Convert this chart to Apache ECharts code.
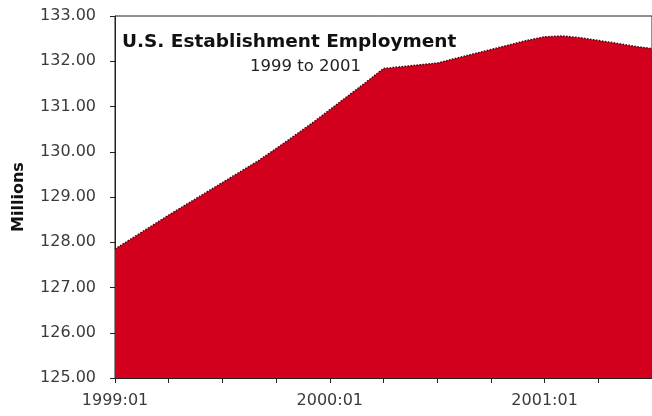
<!DOCTYPE html>
<html>
<head>
<meta charset="utf-8">
<script src="https://cdn.jsdelivr.net/npm/echarts@6/dist/echarts.min.js"></script>
<style>
  html, body { margin: 0; padding: 0; background: #fff; }
  #chart { width: 652px; height: 416px; }
</style>
</head>
<body>
<div id="chart"></div>
<script>
// 月份（横轴类目）
let months = [
    '1999:01', '1999:02', '1999:03', '1999:04', '1999:05', '1999:06',
    '1999:07', '1999:08', '1999:09', '1999:10', '1999:11', '1999:12',
    '2000:01', '2000:02', '2000:03', '2000:04', '2000:05', '2000:06',
    '2000:07', '2000:08', '2000:09', '2000:10', '2000:11', '2000:12',
    '2001:01', '2001:02', '2001:03', '2001:04', '2001:05', '2001:06',
    '2001:07'
];
// 就业人数（百万）
let employment = [
    127.85, 128.10, 128.35, 128.60, 128.84, 129.08,
    129.32, 129.56, 129.80, 130.07, 130.35, 130.63,
    130.93, 131.23, 131.53, 131.84, 131.88, 131.92,
    131.96, 132.06, 132.16, 132.26, 132.36, 132.46,
    132.54, 132.56, 132.52, 132.46, 132.40, 132.33,
    132.28
];
let yTicks = { min: 125, max: 133, step: 1 };

let chart = echarts.init(document.getElementById('chart'), null, { renderer: 'canvas' });
let option = {
    animation: false,
    backgroundColor: '#fff',
    title: [
        {
            text: 'U.S. Establishment Employment',
            left: 122,
            top: 33,
            padding: 0,
            textStyle: { fontFamily: 'DejaVu Sans', fontSize: 18.5, fontWeight: 'bold', color: '#111' }
        },
        {
            text: '1999 to 2001',
            left: 250,
            top: 58,
            padding: 0,
            textStyle: { fontFamily: 'DejaVu Sans', fontSize: 16.5, fontWeight: 'normal', color: '#222' }
        }
    ],
    grid: {
        left: 115,
        right: -3,
        top: 16,
        bottom: 38,
        show: true,
        borderColor: '#222',
        borderWidth: 1
    },
    xAxis: {
        type: 'category',
        data: months,
        boundaryGap: false,
        axisLine: { lineStyle: { color: '#222', width: 1 } },
        axisTick: {
            length: 5,
            interval: (idx) => idx % 3 === 0,
            lineStyle: { color: '#222' }
        },
        axisLabel: {
            interval: (idx) => idx % 12 === 0,
            margin: 15,
            fontFamily: 'DejaVu Sans',
            fontSize: 16,
            color: '#3a3a3a'
        },
        splitLine: { show: false }
    },
    yAxis: {
        type: 'value',
        min: yTicks.min,
        max: yTicks.max,
        interval: yTicks.step,
        name: 'Millions',
        nameLocation: 'middle',
        nameGap: 88,
        nameRotate: 90,
        nameTextStyle: { fontFamily: 'DejaVu Sans', fontSize: 16, fontWeight: 'bold', color: '#111' },
        axisLine: { show: true, lineStyle: { color: '#222', width: 1 } },
        axisTick: { show: true, length: 5, lineStyle: { color: '#222' } },
        axisLabel: {
            margin: 19,
            fontFamily: 'DejaVu Sans',
            fontSize: 16,
            color: '#3a3a3a',
            formatter: (v) => v.toFixed(2)
        },
        splitLine: { show: false }
    },
    series: [
        {
            type: 'line',
            data: employment,
            symbol: 'none',
            smooth: false,
            lineStyle: { color: '#3a0a0a', width: 1.5, type: 'dotted' },
            areaStyle: { color: '#d3001d', opacity: 1 }
        }
    ]
};
chart.setOption(option);
</script>
</body>
</html>
